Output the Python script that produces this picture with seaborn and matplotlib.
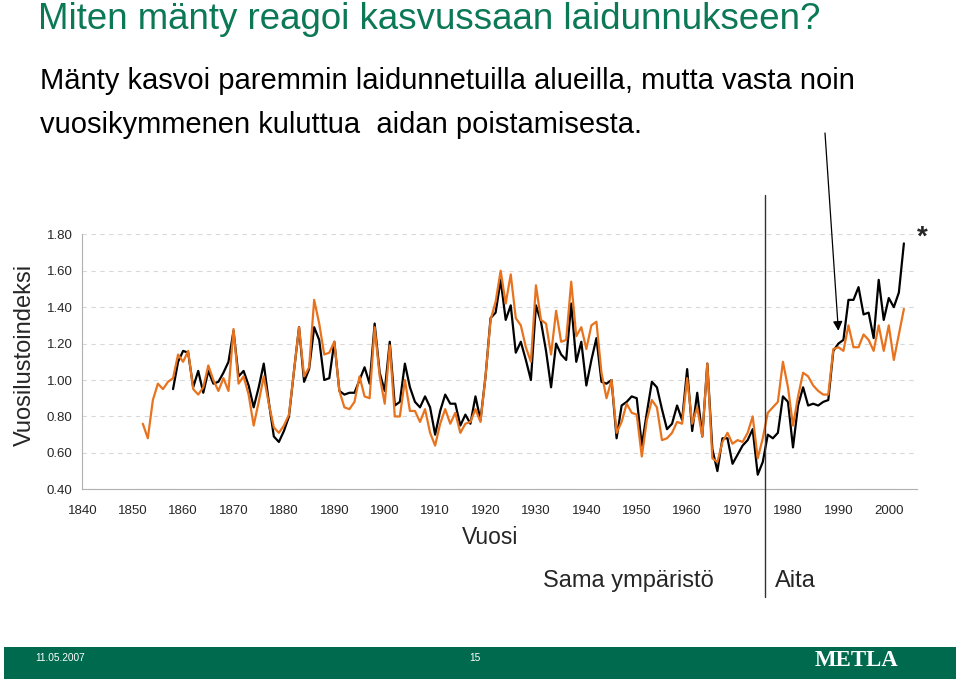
import numpy as np
import pandas as pd
import matplotlib
matplotlib.use('Agg')
import matplotlib.pyplot as plt
import matplotlib.transforms as mtransforms
import seaborn as sns

# vuosilustoindeksit, luettu kuvasta
black_start = 1858
black_vals = [
    0.95, 1.10, 1.16, 1.15, 0.96, 1.05, 0.93, 1.05, 0.98, 0.99,   # 1858-
    1.04, 1.10, 1.27, 1.02, 1.05, 0.97, 0.85, 0.96, 1.09, 0.88,   # 1868-
    0.69, 0.66, 0.72, 0.80, 1.05, 1.29, 0.99, 1.06, 1.29, 1.22,   # 1878-
    1.00, 1.01, 1.21, 0.94, 0.92, 0.93, 0.93, 1.00, 1.07, 0.98,   # 1888-
    1.31, 1.04, 0.94, 1.21, 0.86, 0.88, 1.09, 0.96, 0.88, 0.85,   # 1898-
    0.91, 0.85, 0.70, 0.83, 0.92, 0.87, 0.87, 0.75, 0.81, 0.76,   # 1908-
    0.91, 0.78, 1.02, 1.34, 1.37, 1.55, 1.33, 1.41, 1.15, 1.21,   # 1918-
    1.11, 1.00, 1.41, 1.32, 1.16, 0.96, 1.20, 1.14, 1.11, 1.42,   # 1928-
    1.10, 1.21, 0.97, 1.11, 1.23, 0.99, 0.98, 1.00, 0.68, 0.86,   # 1938-
    0.88, 0.91, 0.90, 0.64, 0.82, 0.99, 0.96, 0.84, 0.73, 0.76,   # 1948-
    0.86, 0.78, 1.06, 0.72, 0.93, 0.69, 1.09, 0.62, 0.50, 0.68,   # 1958-
    0.68, 0.54, 0.59, 0.64, 0.67, 0.73, 0.48, 0.55, 0.70, 0.68,   # 1968-
    0.71, 0.91, 0.88, 0.63, 0.86, 0.96, 0.86, 0.87, 0.86, 0.88,   # 1978-
    0.89, 1.16, 1.20, 1.22, 1.44, 1.44, 1.51, 1.36, 1.37, 1.23,   # 1988-
    1.55, 1.33, 1.45, 1.40, 1.48, 1.75,                           # 1998-2003
]
orange_start = 1852
orange_vals = [
    0.76, 0.68, 0.89, 0.98, 0.95, 0.99,                           # 1852-
    1.01, 1.14, 1.10, 1.16, 0.95, 0.92, 0.96, 1.08, 1.00, 0.94,   # 1858-
    1.01, 0.94, 1.28, 0.98, 1.02, 0.92, 0.75, 0.88, 1.02, 0.87,   # 1868-
    0.74, 0.71, 0.75, 0.81, 1.05, 1.29, 1.02, 1.07, 1.44, 1.31,   # 1878-
    1.14, 1.15, 1.21, 0.94, 0.85, 0.84, 0.88, 1.02, 0.91, 0.90,   # 1888-
    1.29, 1.02, 0.87, 1.19, 0.80, 0.80, 1.00, 0.83, 0.83, 0.77,   # 1898-
    0.84, 0.71, 0.64, 0.76, 0.84, 0.76, 0.82, 0.71, 0.76, 0.77,   # 1908-
    0.84, 0.77, 1.02, 1.33, 1.43, 1.60, 1.42, 1.58, 1.34, 1.30,   # 1918-
    1.18, 1.10, 1.52, 1.33, 1.31, 1.14, 1.38, 1.21, 1.22, 1.54,   # 1928-
    1.24, 1.29, 1.17, 1.30, 1.32, 1.04, 0.90, 1.00, 0.71, 0.77,   # 1938-
    0.87, 0.82, 0.81, 0.58, 0.78, 0.89, 0.85, 0.67, 0.68, 0.71,   # 1948-
    0.77, 0.76, 1.01, 0.76, 0.85, 0.69, 1.09, 0.57, 0.55, 0.66,   # 1958-
    0.71, 0.65, 0.67, 0.66, 0.71, 0.80, 0.57, 0.68, 0.82, 0.85,   # 1968-
    0.88, 1.10, 0.96, 0.75, 0.91, 1.04, 1.02, 0.97, 0.94, 0.92,   # 1978-
    0.92, 1.17, 1.18, 1.16, 1.30, 1.18, 1.18, 1.25, 1.22, 1.16,   # 1988-
    1.30, 1.16, 1.30, 1.11, 1.25, 1.39,                           # 1998-2003
]
black_years = list(range(black_start, black_start + len(black_vals)))
orange_years = list(range(orange_start, orange_start + len(orange_vals)))

x_ticks = list(range(1840, 2001, 10))
y_ticks = [0.40, 0.60, 0.80, 1.00, 1.20, 1.40, 1.60, 1.80]
fence_year = 1975.4

df = pd.concat([
    pd.DataFrame({'vuosi': black_years, 'indeksi': black_vals, 'sarja': 'laidunnettu'}),
    pd.DataFrame({'vuosi': orange_years, 'indeksi': orange_vals, 'sarja': 'vertailu'}),
])

sns.set_style('white')
plt.rcParams['font.family'] = ['Liberation Sans', 'DejaVu Sans']

W, H = 960, 681
fig = plt.figure(figsize=(9.6, 6.81), dpi=100)

def fx(px):
    return px / W

def fy(py):
    return 1 - py / H

ax = fig.add_axes([fx(82.3), fy(489.3), fx(917) - fx(82.3), fy(234.3) - fy(489.3)])
sns.lineplot(data=df, x='vuosi', y='indeksi', hue='sarja',
             hue_order=['laidunnettu', 'vertailu'],
             palette={'laidunnettu': 'black', 'vertailu': '#e8731e'},
             linewidth=1.6, legend=False, ax=ax)

ax.set_xlim(1840, 2005.6)
ax.set_ylim(0.40, 1.80)
ax.set_xticks(x_ticks)
ax.set_yticks(y_ticks)
ax.set_xticklabels([str(t) for t in x_ticks], fontsize=9.5)
ax.set_yticklabels(['%.2f' % t for t in y_ticks], fontsize=9.5)
ax.set_xlabel('')
ax.set_ylabel('')
ax.grid(axis='y', linestyle=(0, (4, 4)), color='#d8d8d8', linewidth=0.8)
for side in ['top', 'right']:
    ax.spines[side].set_visible(False)
for side in ['left', 'bottom']:
    ax.spines[side].set_color('#b0b0b0')
    ax.spines[side].set_linewidth(0.8)
ax.tick_params(axis='y', length=3, color='#b0b0b0', pad=4)
ax.tick_params(axis='x', direction='inout', length=6, color='#b0b0b0', pad=8)

# aidan poisto: pystyviiva
trans = mtransforms.blended_transform_factory(ax.transData, fig.transFigure)
fig.add_artist(plt.Line2D([fence_year, fence_year], [fy(195), fy(597)],
                          transform=trans, color='#333333', linewidth=1.0))

# nuoli
ax.annotate('', xy=(1990.0, 1.27), xycoords='data',
            xytext=(fx(825), fy(133)), textcoords='figure fraction',
            arrowprops=dict(arrowstyle='-|>', color='black', lw=0.9,
                            mutation_scale=14, shrinkA=0, shrinkB=0),
            annotation_clip=False)
fig.text(fx(922), fy(238), '*', fontsize=20, fontweight='bold', ha='center', va='center')

# otsikot
fig.text(fx(38), fy(29), 'Miten mänty reagoi kasvussaan laidunnukseen?',
         fontsize=26.4, color='#0b7856', ha='left', va='baseline')
fig.text(fx(40), fy(89), 'Mänty kasvoi paremmin laidunnetuilla alueilla, mutta vasta noin',
         fontsize=21, color='black', ha='left', va='baseline')
fig.text(fx(40), fy(133), 'vuosikymmenen kuluttua  aidan poistamisesta.',
         fontsize=21, color='black', ha='left', va='baseline')

fig.text(fx(25), fy(355), 'Vuosilustoindeksi', fontsize=17, rotation=90,
         ha='center', va='center')
fig.text(fx(490), fy(537), 'Vuosi', fontsize=16.5, ha='center', va='center')
fig.text(fx(628), fy(581), 'Sama ympäristö', fontsize=17, ha='center', va='center')
fig.text(fx(795), fy(581), 'Aita', fontsize=17, ha='center', va='center')

# alapalkki
fig.add_artist(plt.Rectangle((fx(4), fy(679)), fx(952), fy(647) - fy(679),
                             transform=fig.transFigure, color='#006a4e', linewidth=0))
fig.text(fx(35), fy(658), '11.05.2007', fontsize=7.3, color='white', ha='left', va='center')
fig.text(fx(475), fy(658), '15', fontsize=7.3, color='white', ha='center', va='center')
fig.text(fx(857), fy(661), 'METLA', fontsize=16.5, color='white', ha='center', va='center',
         family=['Liberation Serif', 'DejaVu Serif'], fontweight='bold')

plt.savefig('out.png', dpi=100)
